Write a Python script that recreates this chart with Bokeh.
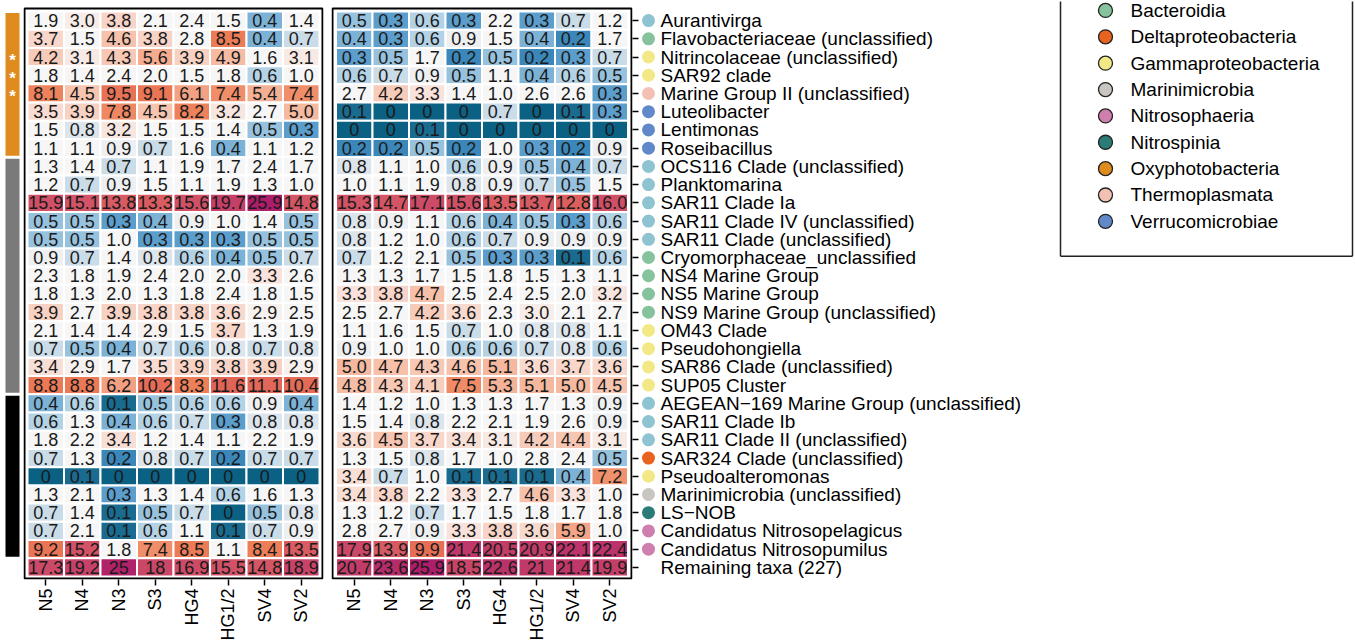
import math
from bokeh.plotting import figure
from bokeh.models import Range1d, FixedTicker, LinearAxis, ColumnDataSource
from bokeh.layouts import row
from bokeh.embed import file_html
from bokeh.resources import INLINE
from bokeh.core.properties import value

# ---------------- data ----------------
samples = ["N5", "N4", "N3", "S3", "HG4", "HG1/2", "SV4", "SV2"]

taxa = [
    "Aurantivirga", "Flavobacteriaceae (unclassified)", "Nitrincolaceae (unclassified)",
    "SAR92 clade", "Marine Group II (unclassified)", "Luteolibacter", "Lentimonas",
    "Roseibacillus", "OCS116 Clade (unclassified)", "Planktomarina", "SAR11 Clade Ia",
    "SAR11 Clade IV (unclassified)", "SAR11 Clade (unclassified)", "Cryomorphaceae_unclassified",
    "NS4 Marine Group", "NS5 Marine Group", "NS9 Marine Group (unclassified)", "OM43 Clade",
    "Pseudohongiella", "SAR86 Clade (unclassified)", "SUP05 Cluster",
    "AEGEAN\u2212169 Marine Group (unclassified)", "SAR11 Clade Ib", "SAR11 Clade II (unclassified)",
    "SAR324 Clade (unclassified)", "Pseudoalteromonas", "Marinimicrobia (unclassified)",
    "LS\u2212NOB", "Candidatus Nitrosopelagicus", "Candidatus Nitrosopumilus", "Remaining taxa (227)",
]

taxon_class = [
    "Alphaproteobacteria", "Bacteroidia", "Gammaproteobacteria", "Gammaproteobacteria",
    "Thermoplasmata", "Verrucomicrobiae", "Verrucomicrobiae", "Verrucomicrobiae",
    "Alphaproteobacteria", "Alphaproteobacteria", "Alphaproteobacteria", "Alphaproteobacteria",
    "Alphaproteobacteria", "Bacteroidia", "Bacteroidia", "Bacteroidia", "Bacteroidia",
    "Gammaproteobacteria", "Gammaproteobacteria", "Gammaproteobacteria", "Gammaproteobacteria",
    "Alphaproteobacteria", "Alphaproteobacteria", "Alphaproteobacteria", "Deltaproteobacteria",
    "Gammaproteobacteria", "Marinimicrobia", "Nitrospinia", "Nitrosophaeria", "Nitrosophaeria",
    None,
]

left_values = [
    [1.9, 3.0, 3.8, 2.1, 2.4, 1.5, 0.4, 1.4],
    [3.7, 1.5, 4.6, 3.8, 2.8, 8.5, 0.4, 0.7],
    [4.2, 3.1, 4.3, 5.6, 3.9, 4.9, 1.6, 3.1],
    [1.8, 1.4, 2.4, 2.0, 1.5, 1.8, 0.6, 1.0],
    [8.1, 4.5, 9.5, 9.1, 6.1, 7.4, 5.4, 7.4],
    [3.5, 3.9, 7.8, 4.5, 8.2, 3.2, 2.7, 5.0],
    [1.5, 0.8, 3.2, 1.5, 1.5, 1.4, 0.5, 0.3],
    [1.1, 1.1, 0.9, 0.7, 1.6, 0.4, 1.1, 1.2],
    [1.3, 1.4, 0.7, 1.1, 1.9, 1.7, 2.4, 1.7],
    [1.2, 0.7, 0.9, 1.5, 1.1, 1.9, 1.3, 1.0],
    [15.9, 15.1, 13.8, 13.3, 15.6, 19.7, 25.9, 14.8],
    [0.5, 0.5, 0.3, 0.4, 0.9, 1.0, 1.4, 0.5],
    [0.5, 0.5, 1.0, 0.3, 0.3, 0.3, 0.5, 0.5],
    [0.9, 0.7, 1.4, 0.8, 0.6, 0.4, 0.5, 0.7],
    [2.3, 1.8, 1.9, 2.4, 2.0, 2.0, 3.3, 2.6],
    [1.8, 1.3, 2.0, 1.3, 1.8, 2.4, 1.8, 1.5],
    [3.9, 2.7, 3.9, 3.8, 3.8, 3.6, 2.9, 2.5],
    [2.1, 1.4, 1.4, 2.9, 1.5, 3.7, 1.3, 1.9],
    [0.7, 0.5, 0.4, 0.7, 0.6, 0.8, 0.7, 0.8],
    [3.4, 2.9, 1.7, 3.5, 3.9, 3.8, 3.9, 2.9],
    [8.8, 8.8, 6.2, 10.2, 8.3, 11.6, 11.1, 10.4],
    [0.4, 0.6, 0.1, 0.5, 0.6, 0.6, 0.9, 0.4],
    [0.6, 1.3, 0.4, 0.6, 0.7, 0.3, 0.8, 0.8],
    [1.8, 2.2, 3.4, 1.2, 1.4, 1.1, 2.2, 1.9],
    [0.7, 1.3, 0.2, 0.8, 0.7, 0.2, 0.7, 0.7],
    [0, 0.1, 0, 0, 0, 0, 0, 0],
    [1.3, 2.1, 0.3, 1.3, 1.4, 0.6, 1.6, 1.3],
    [0.7, 1.4, 0.1, 0.5, 0.7, 0, 0.5, 0.8],
    [0.7, 2.1, 0.1, 0.6, 1.1, 0.1, 0.7, 0.9],
    [9.2, 15.2, 1.8, 7.4, 8.5, 1.1, 8.4, 13.5],
    [17.3, 19.2, 25, 18, 16.9, 15.5, 14.8, 18.9],
]

right_values = [
    [0.5, 0.3, 0.6, 0.3, 2.2, 0.3, 0.7, 1.2],
    [0.4, 0.3, 0.6, 0.9, 1.5, 0.4, 0.2, 1.7],
    [0.3, 0.5, 1.7, 0.2, 0.5, 0.2, 0.3, 0.7],
    [0.6, 0.7, 0.9, 0.5, 1.1, 0.4, 0.6, 0.5],
    [2.7, 4.2, 3.3, 1.4, 1.0, 2.6, 2.6, 0.3],
    [0.1, 0, 0, 0, 0.7, 0, 0.1, 0.3],
    [0, 0, 0.1, 0, 0, 0, 0, 0],
    [0.2, 0.2, 0.5, 0.2, 1.0, 0.3, 0.2, 0.9],
    [0.8, 1.1, 1.0, 0.6, 0.9, 0.5, 0.4, 0.7],
    [1.0, 1.1, 1.9, 0.8, 0.9, 0.7, 0.5, 1.5],
    [15.3, 14.7, 17.1, 15.6, 13.5, 13.7, 12.8, 16.0],
    [0.8, 0.9, 1.1, 0.6, 0.4, 0.5, 0.3, 0.6],
    [0.8, 1.2, 1.0, 0.6, 0.7, 0.9, 0.9, 0.9],
    [0.7, 1.2, 2.1, 0.5, 0.3, 0.3, 0.1, 0.6],
    [1.3, 1.3, 1.7, 1.5, 1.8, 1.5, 1.3, 1.1],
    [3.3, 3.8, 4.7, 2.5, 2.4, 2.5, 2.0, 3.2],
    [2.5, 2.7, 4.2, 3.6, 2.3, 3.0, 2.1, 2.7],
    [1.1, 1.6, 1.5, 0.7, 1.0, 0.8, 0.8, 1.1],
    [0.9, 1.0, 1.0, 0.6, 0.6, 0.7, 0.8, 0.6],
    [5.0, 4.7, 4.3, 4.6, 5.1, 3.6, 3.7, 3.6],
    [4.8, 4.3, 4.1, 7.5, 5.3, 5.1, 5.0, 4.5],
    [1.4, 1.2, 1.0, 1.3, 1.3, 1.7, 1.3, 0.9],
    [1.5, 1.4, 0.8, 2.2, 2.1, 1.9, 2.6, 0.9],
    [3.6, 4.5, 3.7, 3.4, 3.1, 4.2, 4.4, 3.1],
    [1.3, 1.5, 0.8, 1.7, 1.0, 2.8, 2.4, 0.5],
    [3.4, 0.7, 1.0, 0.1, 0.1, 0.1, 0.4, 7.2],
    [3.4, 3.8, 2.2, 3.3, 2.7, 4.6, 3.3, 1.0],
    [1.3, 1.2, 0.7, 1.7, 1.5, 1.8, 1.7, 1.8],
    [2.8, 2.7, 0.9, 3.3, 3.8, 3.6, 5.9, 1.0],
    [17.9, 13.9, 9.9, 21.4, 20.5, 20.9, 22.1, 22.4],
    [20.7, 23.6, 25.9, 18.5, 22.6, 21, 21.4, 19.9],
]

# row groups of the side bar (number of rows in each group) and starred rows (1-based)
group_sizes = [8, 13, 9]
starred_rows = [3, 4, 5]

legend_classes = ["Bacteroidia", "Deltaproteobacteria", "Gammaproteobacteria", "Marinimicrobia",
                  "Nitrosophaeria", "Nitrospinia", "Oxyphotobacteria", "Thermoplasmata",
                  "Verrucomicrobiae"]

# ---------------- styles ----------------
FONT = "Liberation Sans"
class_colors = {
    "Alphaproteobacteria": "#8ec3d2", "Bacteroidia": "#86c29c", "Deltaproteobacteria": "#e8631f",
    "Gammaproteobacteria": "#f2e986", "Marinimicrobia": "#c9c5c1", "Nitrosophaeria": "#cf7fae",
    "Nitrospinia": "#2b7b78", "Oxyphotobacteria": "#e08b1e", "Thermoplasmata": "#f3c1b4",
    "Verrucomicrobiae": "#6188c9",
}
group_colors = ["#e08b1e", "#7a7a7a", "#000000"]

anchors = [(0, "#0a6184"), (0.1, "#1a6b90"), (0.2, "#3b87b9"), (0.3, "#5b9dcb"), (0.4, "#7cb2d6"),
           (0.5, "#97c2de"), (0.6, "#b4d2e5"), (0.7, "#cbdce9"), (0.8, "#dce4ec"), (0.9, "#edeff1"),
           (1.0, "#f6f6f6"), (2.8, "#f6f6f6"), (3.0, "#f7ece8"), (3.5, "#f8dcd2"), (4.0, "#f7cfbf"),
           (4.5, "#f6c4af"), (5.0, "#f5b9a0"), (6.0, "#f3a385"), (7.5, "#ef8c67"), (8.5, "#ec7c56"),
           (10, "#e66d56"), (12, "#de6259"), (14, "#d65a64"), (16, "#cf4f67"), (20, "#c43f68"),
           (23, "#b9306a"), (26, "#ac1c6a")]


def hex2rgb(h):
    return tuple(int(h[i:i + 2], 16) for i in (1, 3, 5))


def cell_color(v):
    for (v0, c0), (v1, c1) in zip(anchors, anchors[1:]):
        if v <= v1:
            t = 0 if v1 == v0 else (v - v0) / (v1 - v0)
            a, b = hex2rgb(c0), hex2rgb(c1)
            return "#%02x%02x%02x" % tuple(round(a[k] + (b[k] - a[k]) * t) for k in range(3))
    return anchors[-1][1]


def cell_label(v, r):
    if v == 0:
        return "0"
    if r == len(taxa) - 1:
        return "%g" % v
    return "%.1f" % v


# ---------------- geometry (pixels) ----------------
H = 643
TOP = 1            # frame top (page y)
BOTTOM = 61        # frame bottom at page y 582
n_rows = len(taxa)
n_cols = len(samples)
ROW_PX = 18.32     # cell pitch vertically
COL_PX = 36.5      # cell pitch horizontally
frame_h = H - TOP - BOTTOM
# cells occupy page y 11..579; the black box sits at 8..581
yr = Range1d(start=n_rows + 0.5 + (TOP + frame_h - 579) / ROW_PX, end=0.5 - (11 - TOP) / ROW_PX)
box_top = 0.5 - 3 / ROW_PX
box_bottom = n_rows + 0.5 + 2 / ROW_PX


def make_heat(vals, width, mb_left, mb_right):
    frame_w = width - mb_left - mb_right
    pad = (frame_w - n_cols * COL_PX) / 2 / COL_PX
    p = figure(width=width, height=H, x_range=Range1d(0.5 - pad, n_cols + 0.5 + pad),
               y_range=yr, output_backend="svg", toolbar_location=None, y_axis_location=None,
               min_border_top=TOP, min_border_bottom=BOTTOM, min_border_left=mb_left,
               min_border_right=mb_right, background_fill_color="white", border_fill_color="white")
    xs, ys, cs, ts = [], [], [], []
    for r, rowv in enumerate(vals):
        for c, v in enumerate(rowv):
            xs.append(c + 1)
            ys.append(r + 1)
            cs.append(cell_color(v))
            ts.append(cell_label(v, r))
    src = ColumnDataSource(dict(x=xs, y=ys, c=cs, t=ts))
    p.rect(x="x", y="y", width=1, height=1, source=src, fill_color="c", line_color="white",
           line_width=2)
    p.text(x="x", y="y", text="t", source=src, text_align="center", text_baseline="middle",
           text_font=value(FONT), text_font_size="18px", text_color="#1a1a1a")
    # black panel box
    bx = (pad * COL_PX - 1) / COL_PX
    p.quad(left=0.5 - bx, right=n_cols + 0.5 + bx, top=box_top, bottom=box_bottom,
           fill_color=None, line_color="black", line_width=2)
    p.xgrid.visible = False
    p.ygrid.visible = False
    p.outline_line_color = None
    ax = p.xaxis[0]
    ax.ticker = FixedTicker(ticks=list(range(1, n_cols + 1)))
    ax.major_label_overrides = {i + 1: s for i, s in enumerate(samples)}
    ax.major_label_orientation = math.pi / 2
    ax.axis_line_color = None
    ax.major_tick_out = 6
    ax.major_tick_in = 0
    ax.major_tick_line_color = "black"
    ax.major_tick_line_width = 1.5
    ax.minor_tick_line_color = None
    ax.major_label_standoff = 3
    ax.major_label_text_font = FONT
    ax.major_label_text_font_size = "18px"
    ax.major_label_text_color = "black"
    return p


# ---------------- side bar ----------------
p1 = figure(width=23, height=H, x_range=Range1d(0, 23), y_range=yr, output_backend="svg",
            toolbar_location=None, x_axis_location=None, y_axis_location=None,
            min_border_top=TOP, min_border_bottom=BOTTOM, min_border_left=0, min_border_right=0)
p1.outline_line_color = None
p1.xgrid.visible = False
p1.ygrid.visible = False
tops, bottoms = [], []
start = 0
for n in group_sizes:
    tops.append(start + 0.5 + 0.08)
    bottoms.append(start + n + 0.5 - 0.08)
    start += n
p1.quad(left=5, right=19, top=tops, bottom=bottoms, fill_color=group_colors, line_color=None)
p1.text(x=[12] * len(starred_rows), y=starred_rows, text=["*"] * len(starred_rows),
        text_align="center", text_baseline="middle", text_color="white", y_offset=3,
        text_font=value(FONT), text_font_size="17px", text_font_style="bold")

# ---------------- heatmaps ----------------
p2 = make_heat(left_values, 304, 0, 4)
p3 = make_heat(right_values, 313, 4, 8)
ra = LinearAxis(ticker=FixedTicker(ticks=list(range(1, n_rows + 1))))
ra.major_label_overrides = {i + 1: "" for i in range(n_rows)}
ra.major_label_text_font_size = "1px"
ra.major_label_standoff = 0
ra.axis_line_color = None
ra.major_tick_out = 6
ra.major_tick_in = 0
ra.major_tick_line_width = 1.5
ra.major_tick_line_color = "black"
ra.minor_tick_line_color = None
p3.add_layout(ra, "right")

# ---------------- labels + legend ----------------
W4 = 715
p4 = figure(width=W4, height=H, x_range=Range1d(0, W4), y_range=yr, output_backend="svg",
            toolbar_location=None, x_axis_location=None, y_axis_location=None,
            min_border_top=TOP, min_border_bottom=BOTTOM, min_border_left=0, min_border_right=0)
p4.extra_y_ranges = {"px": Range1d(start=TOP + frame_h, end=TOP)}
p4.outline_line_color = None
p4.xgrid.visible = False
p4.ygrid.visible = False

dot_rows = [i + 1 for i, c in enumerate(taxon_class) if c]
dot_cols = [class_colors[c] for c in taxon_class if c]
p4.scatter(x=[8] * len(dot_rows), y=dot_rows, size=13, fill_color=dot_cols, line_color=None)
p4.text(x=[20] * n_rows, y=list(range(1, n_rows + 1)), text=taxa, text_align="left",
        text_baseline="middle", text_font=value(FONT), text_font_size="19px", text_color="black")

# legend box (its top edge runs out of view, as in the reference)
lx0, lx1, ly_bottom = 420, 712, 257
p4.segment(x0=[lx0, lx1, lx0], y0=[-20, -20, ly_bottom], x1=[lx0, lx1, lx1],
           y1=[ly_bottom, ly_bottom, ly_bottom], line_color="#222222", line_width=1.5,
           y_range_name="px")
leg_y = [10 + 26.5 * i for i in range(len(legend_classes))]
p4.scatter(x=[465] * len(legend_classes), y=leg_y, size=14,
           fill_color=[class_colors[c] for c in legend_classes], line_color="#222222",
           line_width=1.3, y_range_name="px")
p4.text(x=[490] * len(legend_classes), y=leg_y, text=legend_classes, text_align="left",
        text_baseline="middle", text_font=value(FONT), text_font_size="19px",
        text_color="black", y_range_name="px")

layout = row(p1, p2, p3, p4, spacing=0)
open("out.html", "w").write(file_html(layout, INLINE))
